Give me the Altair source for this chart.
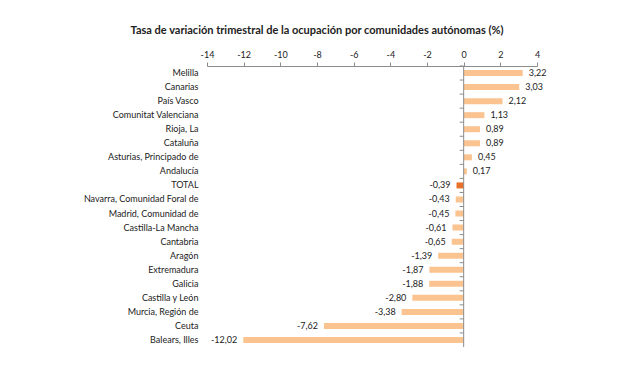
import altair as alt
import pandas as pd

regions = ["Melilla", "Canarias", "País Vasco", "Comunitat Valenciana", "Rioja, La",
           "Cataluña", "Asturias, Principado de", "Andalucía", "TOTAL",
           "Navarra, Comunidad Foral de", "Madrid, Comunidad de", "Castilla-La Mancha",
           "Cantabria", "Aragón", "Extremadura", "Galicia", "Castilla y León",
           "Murcia, Región de", "Ceuta", "Balears, Illes"]
values = [3.22, 3.03, 2.12, 1.13, 0.89, 0.89, 0.45, 0.17, -0.39, -0.43, -0.45,
          -0.61, -0.65, -1.39, -1.87, -1.88, -2.80, -3.38, -7.62, -12.02]
x_ticks = [-14, -12, -10, -8, -6, -4, -2, 0, 2, 4]

df = pd.DataFrame({"region": regions, "value": values})
df["label"] = [f"{v:.2f}".replace(".", ",") for v in values]

FONT = "Lato"
xscale = alt.Scale(domain=[-14, 4], nice=False)
yscale = alt.Scale(domain=regions, paddingInner=0, paddingOuter=0)

base = alt.Chart(df)

xaxis = alt.Axis(orient="top", values=x_ticks, grid=False, title=None,
                 labelOverlap=False, labelFlush=False,
                 labelExpr="datum.value < 0 ? '-' + abs(datum.value) : '' + datum.value")
yaxis = alt.Axis(title=None, domain=False, ticks=False)

bars = base.mark_bar(size=6).encode(
    x=alt.X("value:Q", scale=xscale, axis=xaxis),
    y=alt.Y("region:N", scale=yscale, sort=regions, axis=yaxis),
    color=alt.condition(alt.datum.region == "TOTAL", alt.value("#E8702A"),
                        alt.value("#FAC38F")),
)

pos_text = base.transform_filter(alt.datum.value >= 0).mark_text(
    align="left", dx=6, font=FONT, fontSize=9, color="#222222").encode(
    x=alt.X("value:Q", scale=xscale, axis=xaxis),
    y=alt.Y("region:N", sort=regions, scale=yscale, axis=yaxis),
    text="label:N")

neg_text = base.transform_filter(alt.datum.value < 0).mark_text(
    align="right", dx=-6, font=FONT, fontSize=9, color="#222222").encode(
    x=alt.X("value:Q", scale=xscale, axis=xaxis),
    y=alt.Y("region:N", sort=regions, scale=yscale, axis=yaxis),
    text="label:N")

zero = alt.Chart(pd.DataFrame({"z": [0]})).mark_rule(color="#8c8c8c").encode(
    x=alt.X("z:Q", scale=xscale, axis=xaxis))

ticks = base.mark_rule(color="#8c8c8c", strokeWidth=1, x2Offset=-4).encode(
    x=alt.X("zero:Q", scale=xscale, axis=xaxis),
    x2="zero2:Q",
    y=alt.Y("region:N", sort=regions, scale=yscale, axis=yaxis, bandPosition=0),
).transform_calculate(zero="0", zero2="0")

chart = alt.layer(bars, zero, ticks, pos_text, neg_text).properties(
    width=330, height=281,
    autosize=alt.AutoSizeParams(type="none"),
    padding={"left": 199, "top": 58, "right": 95, "bottom": 30},
    title=alt.TitleParams(
        "Tasa de variación trimestral de la ocupación por comunidades autónomas (%)",
        font=FONT, fontSize=11, fontWeight="bold", color="#222222",
        anchor="middle", dx=-55, offset=14),
).configure(background="white").configure_view(stroke=None).configure_axisX(
    domainColor="#8c8c8c", tickColor="#8c8c8c", tickSize=4,
    labelFont=FONT, labelFontSize=9, labelColor="#222222", labelPadding=3,
    labelOverlap=False, labelFlush=False,
).configure_axisY(
    labelFont=FONT, labelFontSize=9, labelColor="#222222", labelPadding=9,
)

chart.save("out.html", embed_options={"renderer": "svg", "actions": False})
